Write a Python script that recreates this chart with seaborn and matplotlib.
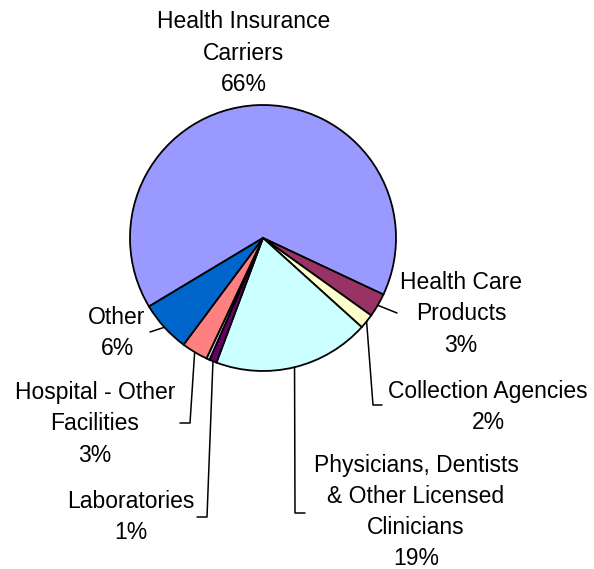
import numpy as np
import matplotlib
matplotlib.use("Agg")
import matplotlib.pyplot as plt
import seaborn as sns

sns.set_style("white")
plt.rcParams['font.family'] = ['Liberation Sans', 'DejaVu Sans']

# data (percent of total)
categories = ["Health Insurance\nCarriers", "Health Care\nProducts", "Collection Agencies",
              "Physicians, Dentists\n& Other Licensed\nClinicians", "Laboratories", "",
              "Hospital - Other\nFacilities", "Other"]
shares = [65.6, 2.9, 1.8, 19.0, 0.9, 0.4, 3.2, 6.2]
colors = ["#9999FF", "#993366", "#FFFFCC", "#CCFFFF", "#660066", "#D8D8D8", "#FF8080", "#0066CC"]

W, H = 594, 569
fig = plt.figure(figsize=(W / 100, H / 100), dpi=100)
ax = fig.add_axes([0, 0, 1, 1])

cx, cy, r = 263, H - 238, 133
wedges, _ = ax.pie(shares, colors=colors, startangle=211, counterclock=False,
                   center=(cx, cy), radius=r, frame=True,
                   wedgeprops=dict(edgecolor="black", linewidth=1.3))
ax.set_xlim(0, W)
ax.set_ylim(0, H)
ax.axis("off")

# label placement (pixel coords, top-left origin) and leader elbows
label_pos = [(244, 53), (461, 314), (488, 407), (416, 512), (131, 517), None, (95, 424), (117, 333)]
elbows = [None, [(397, 313)], [(373, 405), (382, 405)], [(295, 513), (305, 513)],
          [(207, 517), (197, 517)], None, [(190, 423), (180, 423)], [(150, 332)]]

for i, (w, lab) in enumerate(zip(wedges, categories)):
    if label_pos[i] is None:
        continue
    pct = f"{round(shares[i]):d}%"
    lx, ly = label_pos[i]
    ax.text(lx, H - ly, f"{lab}\n{pct}", ha="center", va="center", fontsize=16.5,
            linespacing=1.45, color="black")
    if elbows[i]:
        mid = np.deg2rad((w.theta1 + w.theta2) / 2)
        xs = [cx + r * np.cos(mid)] + [p[0] for p in elbows[i]]
        ys = [cy + r * np.sin(mid)] + [H - p[1] for p in elbows[i]]
        ax.plot(xs, ys, color="black", linewidth=1.1)

fig.savefig("out.png", dpi=100)
